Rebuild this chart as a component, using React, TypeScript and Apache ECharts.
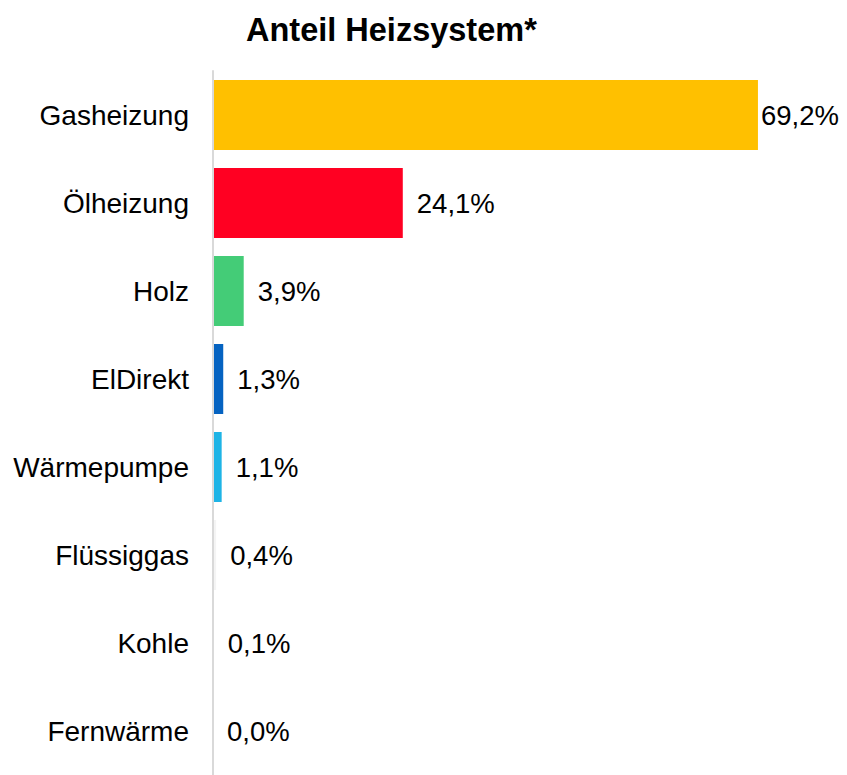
import React, { useEffect, useRef } from "react";
import * as echarts from "echarts";

const categories = ["Gasheizung", "Ölheizung", "Holz", "ElDirekt", "Wärmepumpe", "Flüssiggas", "Kohle", "Fernwärme"];
const values = [69.2, 24.1, 3.9, 1.3, 1.1, 0.4, 0.1, 0.0];
const colors = ["#FFC000", "#FF0022", "#44CC77", "#0563C1", "#1EB4E6", "#F4F4F4", "#F4F4F4", "#F4F4F4"];
const labelDistances = [3, 14, 14, 14, 14, 14, 14, 14];
const titleText = "Anteil Heizsystem*";

const FONT = "'Liberation Sans', Arial, sans-serif";

export default function App() {
  const ref = useRef<HTMLDivElement>(null);
  useEffect(() => {
    document.body.style.margin = "0";
    const chart = echarts.init(ref.current!, null, { renderer: "svg" });
    chart.setOption({
      animation: false,
      title: {
        text: titleText,
        left: 241,
        top: 8,
        textStyle: { fontFamily: FONT, fontSize: 32.5, fontWeight: "bold", color: "#000" },
      },
      grid: { left: 213, top: 71, width: 630, height: 709, containLabel: false },
      xAxis: {
        type: "value",
        min: 0,
        max: 80,
        show: false,
      },
      yAxis: {
        type: "category",
        data: categories,
        inverse: true,
        axisLine: { show: true, lineStyle: { color: "#D9D9D9", width: 2 } },
        axisTick: { show: false },
        axisLabel: { fontFamily: FONT, fontSize: 28, color: "#000", margin: 24 },
        z: 5,
      },
      series: [
        {
          type: "bar",
          barWidth: 70,
          data: values.map((v, i) => ({
            value: v,
            itemStyle: { color: colors[i] },
            label: { distance: labelDistances[i] },
          })),
          label: {
            show: true,
            position: "right",
            fontFamily: FONT,
            fontSize: 27.5,
            color: "#000",
            formatter: (p: any) => p.value.toFixed(1).replace(".", ",") + "%",
          },
        },
      ],
    });
    return () => chart.dispose();
  }, []);
  return <div ref={ref} style={{ width: 847, height: 775 }} />;
}
